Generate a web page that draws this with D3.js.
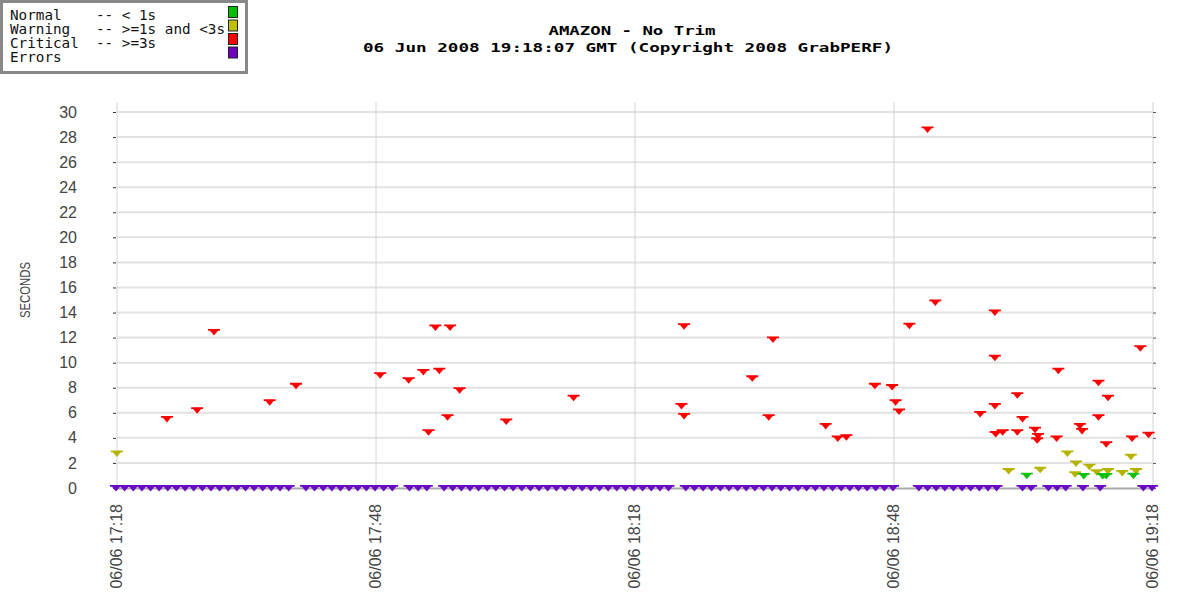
<!DOCTYPE html>
<html><head><meta charset="utf-8">
<script src="https://cdn.jsdelivr.net/npm/d3@7"></script>
<style>
html,body{margin:0;padding:0;background:#fff;}
svg{display:block;}
</style></head>
<body>
<script>
// ---- data (minutes after 06/06 17:18 GMT, seconds) ----
const titleLines = ["AMAZON - No Trim", "06 Jun 2008 19:18:07 GMT (Copyright 2008 GrabPERF)"];
const legendLabels = ["Normal    -- < 1s", "Warning   -- >=1s and <3s", "Critical  -- >=3s", "Errors"];
const legendColors = ["#00c000", "#c0c000", "#ff0000", "#7000c0"];
const yAxisLabel = "SECONDS";
const yTicks = [0,2,4,6,8,10,12,14,16,18,20,22,24,26,28,30];
const xTickLabels = ["06/06 17:18","06/06 17:48","06/06 18:18","06/06 18:48","06/06 19:18"];

const criticalMin = [5.9,9.4,11.35,17.8,20.85,30.6,33.9,35.6,36.2,37.0,37.45,38.4,38.7,39.8,45.2,53.0,65.5,65.8,65.8,73.7,75.6,76.1,82.2,83.6,84.6,87.9,89.9,90.3,90.7,91.9,94.0,94.9,100.1,101.8,101.8,101.8,101.9,102.7,104.4,104.4,105.0,106.45,106.7,106.8,108.95,109.15,111.65,111.9,113.8,113.8,114.7,114.9,117.7,118.65,119.6];
const criticalSec = [5.5,6.2,12.45,6.85,8.15,9.0,8.6,9.25,4.45,12.8,9.35,5.65,12.8,7.8,5.3,7.2,6.55,12.9,5.75,8.75,5.65,11.85,4.95,3.95,4.05,8.15,8.05,6.85,6.1,12.95,28.6,14.8,5.9,14.0,10.4,6.55,4.3,4.45,7.4,4.45,5.5,4.65,3.8,4.15,3.95,9.35,4.95,4.55,5.65,8.4,3.5,7.2,3.95,11.15,4.25];
const warningMin = [0.1,103.4,107.05,110.2,111.1,111.2,112.75,113.6,114.9,116.55,117.55,118.15];
const warningSec = [2.75,1.35,1.45,2.75,1.1,1.95,1.7,1.25,1.35,1.2,2.5,1.35];
const normalMin = [105.5,112.1,114.3,114.7,117.85];
const normalSec = [0.98,0.96,0.95,0.96,0.98];
const errorMin = [0,1,2,3,4,5,6,7,8,9,10,11,12,13,14,15,16,17,18,19,20,22,23,24,25,26,27,28,29,30,31,32,34,35,36,38,39,40,41,42,43,44,45,46,47,48,49,50,51,52,53,54,55,56,57,58,59,60,61,62,63,64,66,67,68,69,70,71,72,73,74,75,76,77,78,79,80,81,82,83,84,85,86,87,88,89,90,93,94,95,96,97,98,99,100,101,102,105,106,108,109,110,112,114,119,120];

// ---- layout ----
const W = 1200, H = 600;
const t0 = Date.UTC(2008,5,6,17,18);
const toDate = m => new Date(t0 + m*60000);

const svg = d3.select("body").append("svg").attr("width",W).attr("height",H)
  .style("font-family","'Liberation Sans', Arial, sans-serif");
svg.append("rect").attr("width",W).attr("height",H).attr("fill","#fff");

const x = d3.scaleUtc().domain([toDate(0), toDate(120)]).range([116, 1152]);
const y = d3.scaleLinear().domain([0,30]).range([488, 112]);

// horizontal grid
svg.append("g").selectAll("line").data(yTicks.filter(d=>d>0)).join("line")
  .attr("x1",117).attr("x2",1152).attr("y1",d=>y(d)).attr("y2",d=>y(d))
  .attr("stroke","#e2e2e2").attr("stroke-width",2);

// vertical grid
const xTicks = d3.range(5).map(i => toDate(i*30));
svg.append("g").selectAll("line").data(xTicks).join("line")
  .attr("x1",d=>x(d)+1).attr("x2",d=>x(d)+1).attr("y1",y(30)-10).attr("y2",y(0))
  .attr("stroke","#d4d4d4").attr("stroke-width",1);

// left axis
const yAxis = d3.axisLeft(y).tickValues(yTicks).tickSize(3).tickPadding(36);
const gy = svg.append("g").attr("transform","translate(116,0)").call(yAxis);
gy.select(".domain").remove();
gy.selectAll(".tick line").attr("stroke","#333");
gy.selectAll(".tick text").attr("font-size",16).attr("fill","#444")
  .attr("font-family","'Liberation Sans', Arial, sans-serif");

// right ticks
const gr = svg.append("g").attr("transform","translate(1153,0)")
  .call(d3.axisRight(y).tickValues(yTicks).tickSize(3).tickFormat(""));
gr.select(".domain").remove();
gr.selectAll(".tick line").attr("stroke","#555");

// y axis label
svg.append("text").attr("transform","translate(30,290) rotate(-90)")
  .attr("text-anchor","middle").attr("font-size",15).attr("fill","#444")
  .attr("textLength",56).attr("lengthAdjust","spacingAndGlyphs")
  .text(yAxisLabel);

// x axis
const xAxis = d3.axisBottom(x).tickValues(xTicks).tickSize(0)
  .tickFormat((d,i)=>xTickLabels[i]);
const gx = svg.append("g").attr("transform",`translate(0,${y(0)})`).call(xAxis);
gx.select(".domain").attr("stroke","#aaa").attr("stroke-width",2);
gx.selectAll(".tick text").attr("font-size",16).attr("fill","#444")
  .attr("font-family","'Liberation Sans', Arial, sans-serif")
  .attr("text-anchor","end").attr("dy",null).attr("y",null)
  .attr("transform","translate(5,16) rotate(-90)");

// marker: flat top bar with a downward point
const marker = "M-6,-3H6V-1.2H4L0,3.5L-4,-1.2H-6Z";
function plot(mins, secs, color){
  svg.append("g").selectAll("path").data(mins.map((m,i)=>({m, s:secs[i]}))).join("path")
    .attr("d",marker)
    .attr("transform",d=>`translate(${x(toDate(d.m))},${y(d.s)})`)
    .attr("fill",color);
}
plot(errorMin, errorMin.map(()=>0), "#6a0cc4");
plot(criticalMin, criticalSec, legendColors[2]);
plot(warningMin, warningSec, "#b4b400");
plot(normalMin, normalSec, "#10c010");

// title
svg.append("text").attr("x",632).attr("y",35).attr("text-anchor","middle")
  .attr("font-family","'DejaVu Sans Mono', monospace").attr("font-weight","bold")
  .attr("font-size",13).attr("textLength",167).attr("lengthAdjust","spacingAndGlyphs")
  .text(titleLines[0]);
svg.append("text").attr("x",628).attr("y",52).attr("text-anchor","middle")
  .attr("font-family","'DejaVu Sans Mono', monospace").attr("font-weight","bold")
  .attr("font-size",13).attr("textLength",530).attr("lengthAdjust","spacingAndGlyphs")
  .text(titleLines[1]);

// legend
const lg = svg.append("g");
lg.append("rect").attr("x",1.5).attr("y",1.5).attr("width",245).attr("height",71)
  .attr("fill","#fff").attr("stroke","#888").attr("stroke-width",3);
lg.selectAll("text").data(legendLabels).join("text")
  .attr("x",10).attr("y",(d,i)=>19.5+i*14)
  .attr("font-family","'DejaVu Sans Mono', monospace").attr("font-size",14)
  .attr("fill","#111").attr("xml:space","preserve").style("white-space","pre")
  .attr("textLength",d=>d.length*8.6).attr("lengthAdjust","spacingAndGlyphs")
  .text(d=>d);
lg.selectAll("rect.sw").data(legendColors).join("rect").attr("class","sw")
  .attr("x",228.5).attr("y",(d,i)=>6.5+i*13.5).attr("width",9).attr("height",11)
  .attr("fill",d=>d).attr("stroke","#222").attr("stroke-width",1);
</script>
</body></html>
